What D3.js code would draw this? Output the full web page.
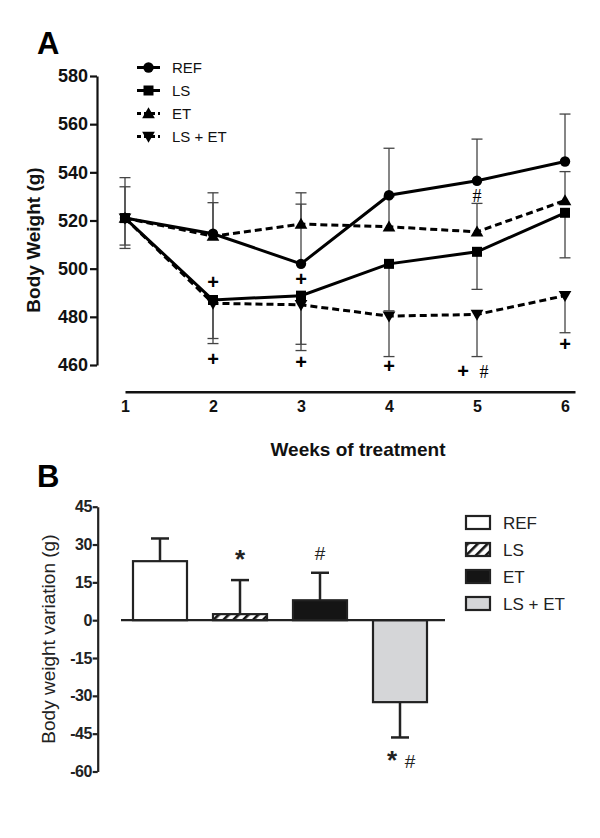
<!DOCTYPE html>
<html><head><meta charset="utf-8">
<script src="https://cdn.jsdelivr.net/npm/d3@7"></script>
<style>
html,body{margin:0;padding:0;background:#fff;}
svg{display:block;font-family:"Liberation Sans",Arial,sans-serif;}
</style></head><body>
<svg id="chart" width="600" height="838"></svg>
<script>
// ---------- Panel A data ----------
const weeks = [1, 2, 3, 4, 5, 6];
const seriesNames = ["REF", "LS", "ET", "LS + ET"];
const refValues  = [521, 514.5, 502, 530.5, 536.5, 544.5];
const lsValues   = [521, 487, 488.8, 502, 507, 523.2];
const etValues   = [521, 513.5, 518.5, 517.4, 515.3, 528.3];
const lsetValues = [521, 485.6, 485, 480.3, 481, 488.8];
const refErr  = [16.8, 17, 24.8, 19.5, 17.3, 19.7];   // drawn upward
const etErr   = [13, 13.9, 13, 12.5, 11.8, 12];       // drawn upward
const lsErr   = [11.2, 16, 20.2, 19.5, 15.6, 18.7];   // drawn downward
const lsetErr = [12.6, 16.7, 19, 16.8, 17.5, 15.4];   // drawn downward
const yTicksA = [460, 480, 500, 520, 540, 560, 580];
// significance marks panel A: [week, value position, text]
const marksA = [
  [2, 494, "+"], [2, 462, "+"], [3, 495.5, "+"], [3, 460.8, "+"],
  [4, 459.3, "+"], [5, 457.3, "+ #"], [6, 468.5, "+"], [5, 530, "#"]
];

// ---------- Panel B data ----------
const groups = ["REF", "LS", "ET", "LS + ET"];
const variation = [23.4, 2.4, 7.9, -32.5];
const variationErr = [9, 13.5, 10.9, 14];
const yTicksB = [45, 30, 15, 0, -15, -30, -45, -60];
const marksB = [["", ""], ["*", ""], ["", "#"], ["*", "#"]];

const plainFmt = d => String(d);   // keeps ASCII hyphen-minus

const svg = d3.select("#chart");

// defs: hatch pattern
const defs = svg.append("defs");
const pat = defs.append("pattern").attr("id", "hatch")
  .attr("patternUnits", "userSpaceOnUse").attr("width", 7).attr("height", 7)
  .attr("patternTransform", "rotate(45)");
pat.append("rect").attr("width", 7).attr("height", 7).attr("fill", "#fff");
pat.append("rect").attr("x", 0).attr("width", 2.6).attr("height", 7).attr("fill", "#111");

// ======== PANEL A ========
svg.append("text").attr("x", 37).attr("y", 54).attr("font-size", 31).attr("font-weight", "bold").text("A");

const xA = d3.scaleLinear().domain([1, 6.1136]).range([125, 575]);
const yA = d3.scaleLinear().domain([460, 580]).range([365, 76]);

const gA = svg.append("g");
// y axis
const yAxisA = d3.axisLeft(yA).tickValues(yTicksA).tickFormat(plainFmt).tickSize(7).tickSizeOuter(0).tickPadding(2);
const gyA = gA.append("g").attr("transform", "translate(97,0)").call(yAxisA);
gyA.select(".domain").attr("stroke", "#111").attr("stroke-width", 2.2);
gyA.selectAll(".tick line").attr("stroke", "#111").attr("stroke-width", 2.2);
gyA.selectAll(".tick text").attr("font-size", 18).attr("font-weight", "bold").attr("fill", "#111")
  .attr("font-family", "Liberation Sans, Arial, sans-serif");

// x axis
const xAxisA = d3.axisBottom(xA).tickValues(weeks).tickFormat(plainFmt).tickSize(0).tickPadding(9).tickSizeOuter(0);
const gxA = gA.append("g").attr("transform", "translate(0,391.7)").call(xAxisA);
gxA.select(".domain").attr("stroke", "#111").attr("stroke-width", 2.4);
gxA.selectAll(".tick text").attr("font-size", 16).attr("font-weight", "bold").attr("fill", "#111")
  .attr("font-family", "Liberation Sans, Arial, sans-serif");

gA.append("text").attr("x", 358).attr("y", 456).attr("text-anchor", "middle")
  .attr("font-size", 19).attr("font-weight", "bold").attr("fill", "#111").text("Weeks of treatment");
gA.append("text").attr("transform", "translate(40,240) rotate(-90)").attr("text-anchor", "middle")
  .attr("font-size", 19).attr("font-weight", "bold").attr("fill", "#111").text("Body Weight (g)");

const seriesA = [
  { name: "REF", vals: refValues, err: refErr, dir: 1, dash: null, sym: d3.symbolCircle, size: 85, rot: 0 },
  { name: "LS", vals: lsValues, err: lsErr, dir: -1, dash: null, sym: d3.symbolSquare, size: 100, rot: 0 },
  { name: "ET", vals: etValues, err: etErr, dir: 1, dash: "7,4", sym: d3.symbolTriangle, size: 70, rot: 0 },
  { name: "LS + ET", vals: lsetValues, err: lsetErr, dir: -1, dash: "7,4", sym: d3.symbolTriangle, size: 70, rot: 180 }
];

// error bars
seriesA.forEach(s => {
  const g = gA.append("g");
  weeks.forEach((w, i) => {
    const end = s.vals[i] + s.dir * s.err[i];
    g.append("line").attr("x1", xA(w)).attr("x2", xA(w)).attr("y1", yA(s.vals[i])).attr("y2", yA(end))
      .attr("stroke", "#444").attr("stroke-width", 1.3);
    g.append("line").attr("x1", xA(w) - 5.5).attr("x2", xA(w) + 5.5).attr("y1", yA(end)).attr("y2", yA(end))
      .attr("stroke", "#444").attr("stroke-width", 1.3);
  });
});

const line = d3.line().x((d, i) => xA(weeks[i])).y(d => yA(d));
[2, 3, 1, 0].forEach(k => {
  const s = seriesA[k];
  gA.append("path").datum(s.vals).attr("d", line).attr("fill", "none").attr("stroke", "#000")
    .attr("stroke-width", 3).attr("stroke-dasharray", s.dash);
});
[2, 3, 1, 0].forEach(k => {
  const s = seriesA[k];
  gA.selectAll(null).data(s.vals).enter().append("path")
    .attr("d", d3.symbol().type(s.sym).size(s.size))
    .attr("transform", (d, i) => `translate(${xA(weeks[i])},${yA(d) + (s.sym === d3.symbolTriangle ? (s.rot ? -1 : 1) : 0)}) rotate(${s.rot})`)
    .attr("fill", "#000");
});

// marks
marksA.forEach(m => {
  const isHash = m[2] === "#";
  if (m[2] === "+ #") {
    gA.append("text").attr("x", xA(m[0]) - 14).attr("y", yA(m[1]) + 6).attr("text-anchor", "middle")
      .attr("font-size", 20).attr("font-weight", "bold").text("+");
    gA.append("text").attr("x", xA(m[0]) + 7).attr("y", yA(m[1]) + 6).attr("text-anchor", "middle")
      .attr("font-size", 18).attr("font-family", "Liberation Serif, serif").text("#");
  } else {
    gA.append("text").attr("x", xA(m[0])).attr("y", yA(m[1]) + 6).attr("text-anchor", "middle")
      .attr("font-size", isHash ? 18 : 20).attr("font-weight", isHash ? "normal" : "bold")
      .attr("font-family", isHash ? "Liberation Serif, serif" : null).text(m[2]);
  }
});

// legend A
const legA = gA.append("g");
const legY = d3.scaleBand().domain(seriesNames).range([56, 148]);
seriesA.forEach(s => {
  const cy = legY(s.name) + legY.bandwidth() / 2;
  legA.append("line").attr("x1", 137).attr("x2", 160).attr("y1", cy).attr("y2", cy)
    .attr("stroke", "#000").attr("stroke-width", 3).attr("stroke-dasharray", s.dash ? "4,3" : null);
  legA.append("path").attr("d", d3.symbol().type(s.sym).size(s.size))
    .attr("transform", `translate(148.5,${cy + (s.sym === d3.symbolTriangle ? (s.rot ? -1 : 1) : 0)}) rotate(${s.rot})`).attr("fill", "#000");
  legA.append("text").attr("x", 172).attr("y", cy + 5.5).attr("font-size", 15).attr("fill", "#111").text(s.name);
});

// ======== PANEL B ========
svg.append("text").attr("x", 37).attr("y", 487).attr("font-size", 31).attr("font-weight", "bold").text("B");

const xB = d3.scaleBand().domain(groups).range([118, 442]).paddingInner(0.325).paddingOuter(0.1875);
const yB = d3.scaleLinear().domain([-60, 45]).range([771.5, 506.7]);
const gB = svg.append("g");

const yAxisB = d3.axisLeft(yB).tickValues(yTicksB).tickFormat(plainFmt).tickSize(5).tickSizeOuter(0).tickPadding(1);
const gyB = gB.append("g").attr("transform", "translate(97.7,0)").call(yAxisB);
gyB.select(".domain").attr("stroke", "#222").attr("stroke-width", 2.2);
gyB.selectAll(".tick line").attr("stroke", "#222").attr("stroke-width", 2.2);
gyB.selectAll(".tick text").attr("font-size", 16).attr("font-weight", "bold").attr("fill", "#222")
  .attr("letter-spacing", -0.6).attr("font-family", "Liberation Sans, Arial, sans-serif");

gB.append("text").attr("transform", `translate(55,${(yB(45) + yB(-60)) / 2}) rotate(-90)`).attr("text-anchor", "middle")
  .attr("font-size", 19).attr("fill", "#222").text("Body weight variation (g)");

const fills = ["#fff", "url(#hatch)", "#151515", "#d5d6d8"];
// error bars B
groups.forEach((gname, i) => {
  const cx = xB(gname) + xB.bandwidth() / 2;
  const v = variation[i];
  const end = v + Math.sign(v) * variationErr[i];
  gB.append("line").attr("x1", cx).attr("x2", cx).attr("y1", yB(v)).attr("y2", yB(end))
    .attr("stroke", "#222").attr("stroke-width", 2.5);
  gB.append("line").attr("x1", cx - 9).attr("x2", cx + 9).attr("y1", yB(end)).attr("y2", yB(end))
    .attr("stroke", "#222").attr("stroke-width", 2.5);
});
// bars
gB.selectAll(null).data(groups).enter().append("rect")
  .attr("x", d => xB(d)).attr("width", xB.bandwidth())
  .attr("y", (d, i) => yB(Math.max(0, variation[i])))
  .attr("height", (d, i) => Math.abs(yB(variation[i]) - yB(0)))
  .attr("fill", (d, i) => fills[i]).attr("stroke", "#222").attr("stroke-width", 2.2);
// zero line
gB.append("line").attr("x1", xB.range()[0] + 3).attr("x2", xB.range()[1] + 3).attr("y1", yB(0)).attr("y2", yB(0))
  .attr("stroke", "#222").attr("stroke-width", 2.2);

// marks B
groups.forEach((gname, i) => {
  const cx = xB(gname) + xB.bandwidth() / 2;
  const v = variation[i];
  const end = v + Math.sign(v) * variationErr[i];
  const ty = v >= 0 ? yB(end) - 20 : yB(end) + 24;
  const [star, hash] = marksB[i];
  const both = star && hash;
  if (star) gB.append("text").attr("x", both ? cx - 8 : cx).attr("y", ty + 8).attr("text-anchor", "middle")
    .attr("font-size", 26).attr("font-weight", "bold").attr("fill", "#222").text(star);
  if (hash) gB.append("text").attr("x", both ? cx + 10 : cx).attr("y", ty + 7).attr("text-anchor", "middle")
    .attr("font-size", 19).attr("fill", "#222").text(hash);
});

// legend B
const legBY = d3.scaleBand().domain(groups).range([509, 617]);
groups.forEach((gname, i) => {
  const cy = legBY(gname) + legBY.bandwidth() / 2;
  gB.append("rect").attr("x", 466).attr("y", cy - 6.5).attr("width", 24).attr("height", 13)
    .attr("fill", fills[i]).attr("stroke", "#222").attr("stroke-width", 2.2);
  gB.append("text").attr("x", 503).attr("y", cy + 6).attr("font-size", 17).attr("fill", "#222").text(gname);
});
</script>
</body></html>
